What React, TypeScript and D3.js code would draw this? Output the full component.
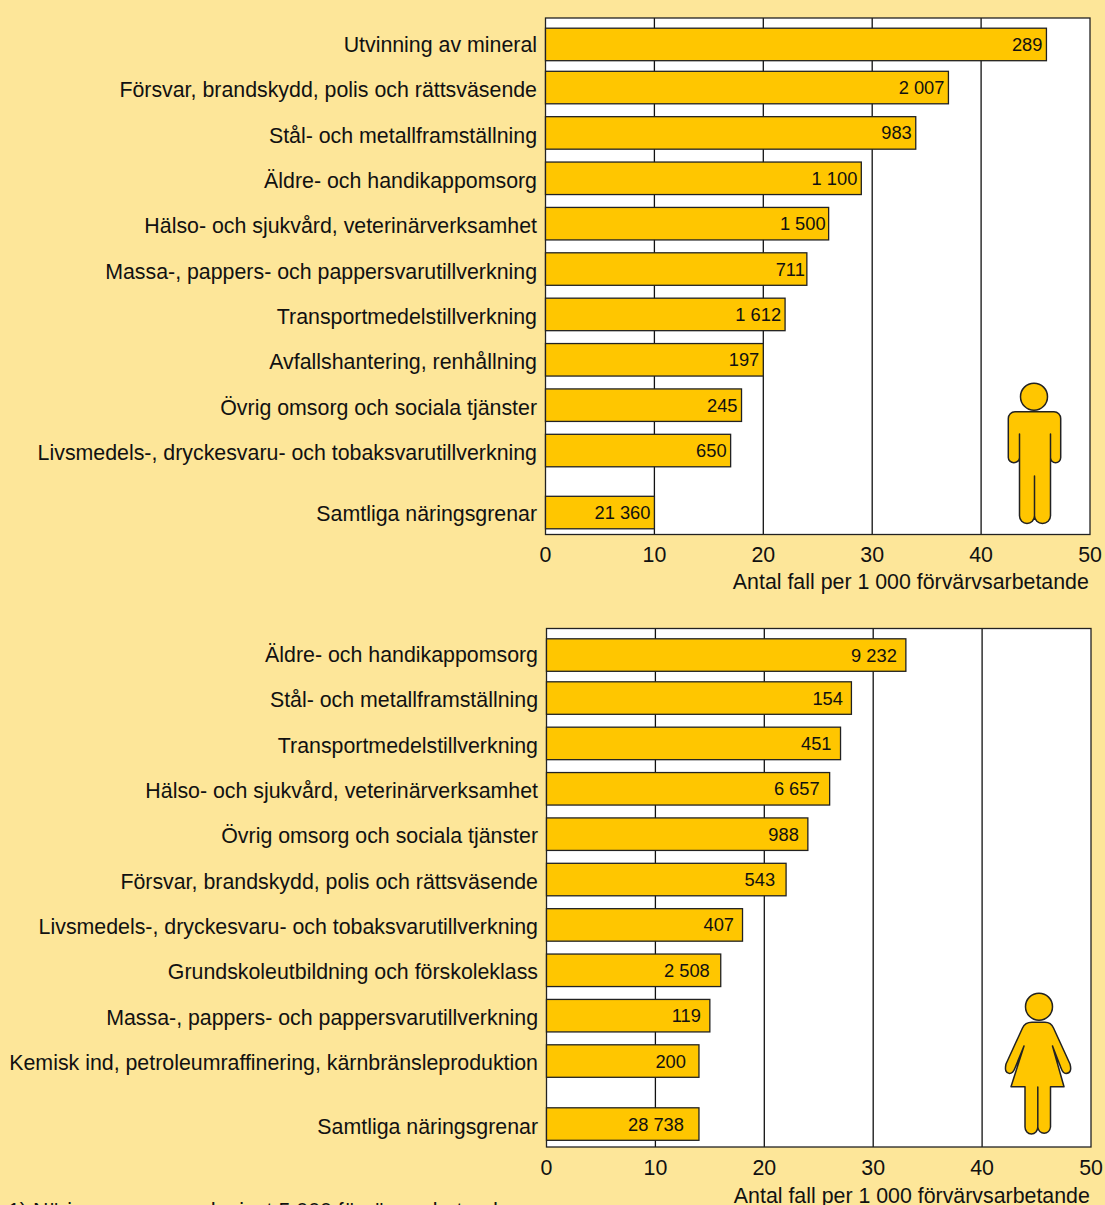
import React from 'react';
import * as d3 from 'd3';

const BG = '#FDE699';
const BAR = '#FFC600';
const FONT = '"Liberation Sans", Arial, sans-serif';

const menCategories = [
  'Utvinning av mineral',
  'Försvar, brandskydd, polis och rättsväsende',
  'Stål- och metallframställning',
  'Äldre- och handikappomsorg',
  'Hälso- och sjukvård, veterinärverksamhet',
  'Massa-, pappers- och pappersvarutillverkning',
  'Transportmedelstillverkning',
  'Avfallshantering, renhållning',
  'Övrig omsorg och sociala tjänster',
  'Livsmedels-, dryckesvaru- och tobaksvarutillverkning',
  'Samtliga näringsgrenar',
];
const menValues = [46, 37, 34, 29, 26, 24, 22, 20, 18, 17, 10];
const menCases = ['289', '2 007', '983', '1 100', '1 500', '711', '1 612', '197', '245', '650', '21 360'];

const womenCategories = [
  'Äldre- och handikappomsorg',
  'Stål- och metallframställning',
  'Transportmedelstillverkning',
  'Hälso- och sjukvård, veterinärverksamhet',
  'Övrig omsorg och sociala tjänster',
  'Försvar, brandskydd, polis och rättsväsende',
  'Livsmedels-, dryckesvaru- och tobaksvarutillverkning',
  'Grundskoleutbildning och förskoleklass',
  'Massa-, pappers- och pappersvarutillverkning',
  'Kemisk ind, petroleumraffinering, kärnbränsleproduktion',
  'Samtliga näringsgrenar',
];
const womenValues = [33, 28, 27, 26, 24, 22, 18, 16, 15, 14, 14];
const womenCases = ['9 232', '154', '451', '6 657', '988', '543', '407', '2 508', '119', '200', '28 738'];

const xTicks = [0, 10, 20, 30, 40, 50];
const xTitle = 'Antal fall per 1 000 förvärvsarbetande';
const footnote = '1) Näringsgrenar med minst 5 000 förvärvsarbetande';

// how far each case count stands in from its bar end, hand-placed in the original
const menInsets = [4, 4, 4, 4, 3, 2, 4, 4, 4, 4, 4];
const womenInsets = [9, 8.5, 9, 10, 9, 11, 8.5, 11, 9, 13, 15];

// the man and woman pictograms, drawn in page coordinates
const manBody =
  'M1015 411.7 H1054 A6.7 6.7 0 0 1 1060.7 418.4 V457.4 A5.1 5.3 0 0 1 1050.5 457.4 V434 ' +
  'V515.8 A8 7.7 0 0 1 1034.5 515.8 V476 V515.8 A7.5 7.7 0 0 1 1019.5 515.8 V434 ' +
  'V457.4 A5.6 5.3 0 0 1 1008.3 457.4 V418.4 A6.7 6.7 0 0 1 1015 411.7 Z';
const womanBody =
  'M1032 1022.3 H1045 Q1051 1022.3 1053.5 1028 L1070 1064 Q1072.5 1073 1066 1073.5 Q1063 1073.5 1061 1068 L1052.5 1046 ' +
  'L1064 1086.7 H1050.5 V1127 A6.4 7 0 0 1 1037.8 1127 V1087 V1127 A6.4 7 0 0 1 1025 1127 V1086.7 ' +
  'H1011 L1024 1046 L1015 1068 Q1013 1073.5 1009.5 1073.5 Q1004 1073 1006 1064 L1022.5 1028 Q1025 1022.3 1032 1022.3 Z';

type PanelProps = {
  categories: string[];
  values: number[];
  cases: string[];
  insets: number[];
  left: number;
  right: number;
  top: number;
  bottom: number;
  firstBar: number;
  secondBar: number;
  totalGap: number;
  labelTop: number;
  labelStep: number;
  totalLabel: number;
  tickY: number;
  titleY: number;
};

function Panel(props: PanelProps) {
  const { categories, values, cases, insets, left, right, top, bottom } = props;
  const x = d3.scaleLinear().domain([0, 50]).range([left, right]);
  // first row sits a little closer to the second, total row sits apart from the ranked rows
  const rank = d3.scaleLinear().domain([1, 9]).range([props.secondBar, props.secondBar + 363]);
  const rowY = (i: number) => (i === 0 ? props.firstBar : i === 10 ? rank(9) + props.totalGap : rank(i));
  const labelY = d3.scaleLinear().domain([0, 9]).range([props.labelTop, props.labelTop + props.labelStep * 9]);
  const barH = 32.5;

  return (
    <g fontFamily={FONT} fill="#111">
      <rect x={left} y={top} width={right - left} height={bottom - top} fill="#fff" />
      {xTicks.slice(1, -1).map(t => (
        <line key={t} x1={x(t)} x2={x(t)} y1={top} y2={bottom} stroke="#111" strokeWidth={1.3} />
      ))}
      <rect x={left} y={top} width={right - left} height={bottom - top} fill="none" stroke="#222" strokeWidth={1.3} />
      {categories.map((c, i) => (
        <g key={c}>
          <rect
            x={left}
            y={rowY(i)}
            width={x(values[i]) - left}
            height={barH}
            fill={BAR}
            stroke="#222"
            strokeWidth={1.3}
          />
          <text x={left - 8.5} y={i === 10 ? props.totalLabel : labelY(i)} textAnchor="end" fontSize={21.35}>
            {c}
          </text>
          <text x={x(values[i]) - insets[i]} y={rowY(i) + 22.7} textAnchor="end" fontSize={18.3}>
            {cases[i]}
          </text>
        </g>
      ))}
      {xTicks.map(t => (
        <text key={t} x={x(t)} y={props.tickY} textAnchor="middle" fontSize={21.35}>
          {t}
        </text>
      ))}
      <text x={right - 1.2} y={props.titleY} textAnchor="end" fontSize={21.35}>
        {xTitle}
      </text>
    </g>
  );
}

export default function App() {
  return (
    <svg
      width={1105}
      height={1205}
      style={{ position: 'fixed', left: 0, top: 0, display: 'block', background: BG }}
    >
      <rect width={1105} height={1205} fill={BG} />
      <Panel
        categories={menCategories}
        values={menValues}
        cases={menCases}
        insets={menInsets}
        left={545.5}
        right={1090}
        top={18}
        bottom={534.5}
        firstBar={28.2}
        secondBar={71.3}
        totalGap={62}
        labelTop={51.9}
        labelStep={45.35}
        totalLabel={521}
        tickY={561.5}
        titleY={589}
      />
      <Panel
        categories={womenCategories}
        values={womenValues}
        cases={womenCases}
        insets={womenInsets}
        left={546.5}
        right={1091}
        top={628.5}
        bottom={1147}
        firstBar={638.8}
        secondBar={681.8}
        totalGap={63}
        labelTop={662}
        labelStep={45.35}
        totalLabel={1134}
        tickY={1175}
        titleY={1202.5}
      />
      <g fill={BAR} stroke="#222" strokeWidth={1.5} strokeLinejoin="round">
        <circle cx={1034} cy={396.7} r={13.5} />
        <path d={manBody} />
        <circle cx={1039} cy={1006.7} r={13.5} />
        <path d={womanBody} />
      </g>
      <text x={8} y={1217.5} fontFamily={FONT} fontSize={21.35} fill="#111">
        {footnote}
      </text>
    </svg>
  );
}
